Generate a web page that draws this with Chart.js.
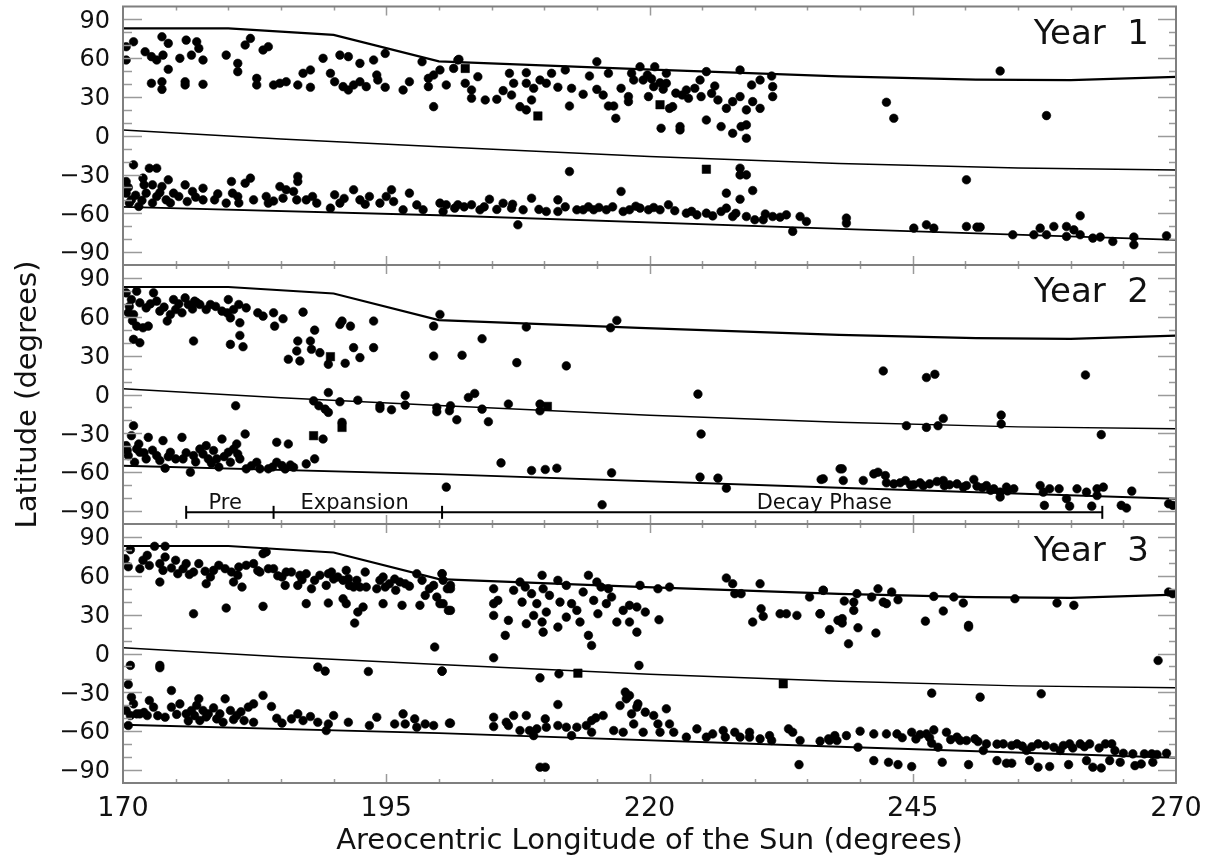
<!DOCTYPE html>
<html>
<head>
<meta charset="utf-8">
<script src="https://cdn.jsdelivr.net/npm/chart.js@4/dist/chart.umd.min.js"></script>
<style>
html,body{margin:0;padding:0;background:#fff;}
#wrap{position:relative;width:1208px;height:856px;overflow:hidden;}
canvas{position:absolute;left:0;top:0;}
</style>
</head>
<body>
<div id="wrap">
<canvas id="c1" width="1208" height="856"></canvas>
<canvas id="c2" width="1208" height="856"></canvas>
<canvas id="c3" width="1208" height="856"></canvas>
</div>
<script>
// ---------- data ----------
const xTicksMajor = [170, 195, 220, 245, 270];
const yTickLabels = [90, 60, 30, 0, -30, -60, -90];
const panelNames = ['Year  1', 'Year  2', 'Year  3'];

// boundary curves (Ls, latitude)
const upperLon = [170, 180, 190, 200, 219, 238, 251, 260, 270];
const upperLat = [83, 83, 78, 57.5, 51.5, 46, 43.5, 43, 45.5];
const middleLon = [170, 185, 200, 220, 238, 255, 270];
const middleLat = [4.5, -2.5, -8.5, -16, -21.5, -25, -26.5];
const lowerLon = [170, 200, 238, 270];
const lowerLat = [-55, -61.5, -72, -80.5];

// phase bar (Year 2)
const phaseBounds = [176, 184.3, 200.3, 263];
const phaseLat = -91;
const phaseNames = ['Pre', 'Expansion', 'Decay Phase'];
const phaseCenters = [179.7, 192, 236.6];

// Year 1 storms [Ls, lat]
const year1Dots = [
[170.3,68.9],[171,72.7],[170.3,58.6],[172.1,65],[172.7,61.2],[173.2,58.6],[173.7,76.6],[174.3,71.5],[173.8,62.4],[174.3,51.4],[172.7,40.6],[173.7,41.8],[173.7,35.9],[175.4,59.9],[176,74],[176.5,62.4],[177,72.7],[177.2,67.6],[177.6,58.6],[175.9,41.8],[175.9,39.3],[177.6,39.8],[179.8,62.4],[180.9,56],[180.9,49.6],[181.6,70.2],[182.1,75.3],[183.3,66.3],[183.8,68.9],[182.7,44.4],[182.7,39.3],[184.3,39.3],[184.9,40.6],[185.5,41.8],[186.6,39.3],[187.1,48.3],[187.8,50.9],[187.8,37.5],[189,59.9],[189.7,48.3],[190.6,62.4],[191.4,61.2],[190.1,41.8],[190.9,38],[191.4,35.4],[191.9,39.3],[192.5,56],[192.5,41.8],[193.1,38],[193.8,58.6],[194.1,47],[194.2,43.1],[194.9,37.5],[194.9,63.7],[196.6,35.4],[197.2,41.8],[198.4,57.3],[199,44.4],[199,38],[199.5,47],[199.5,22.5],[200.1,50.9],[200.7,39.3],[201.4,52.1],[201.8,58.6],
[201.9,59.1],[202.5,40.6],[203.1,35.4],[203.1,29],[203.7,45.7],[204.4,27.7],[205.5,28.2],[206.1,34.9],[206.7,48.3],[206.9,31.5],[207.1,40.6],[207.7,22.5],[208.3,20],[208.3,48.8],[208.3,40.6],[208.8,27.7],[209,36.7],[209.6,43.1],[210.2,40.6],[210.7,48.3],[211.3,37.5],[212,50.9],[212.4,23],[212.6,36.7],[213.7,32.1],[214.3,46.2],[215,57.3],[215,35.9],[215.6,31.5],[216.1,48.3],[216.1,23],[216.6,23],[216.8,13.5],[217.3,36.7],[218,30.3],[218,26.4],[218.3,48.3],[218.5,43.1],[219.1,53.4],[219.4,43.1],[219.9,30.3],[220.4,38],[220.5,53.4],[221.1,5.8],[221.6,48.3],[221.6,40.6],[221.9,21.2],[222.2,22.5],[222.9,7.1],[222.9,4.5],[223.5,35.4],[223.7,29],[224.3,36.7],[224.8,43.1],[224.9,30.3],[225.4,49.6],[225.4,12.2],[225.9,32.8],[226.2,38.5],[226.5,27.7],[226.8,7.1],[227.3,21.2],[227.9,1.9],[227.9,26.4],[228.6,30.3],[228.6,50.9],[228.7,7.1],[229.2,8.4],[229.2,-1.9],[229.2,20],[229.7,39.3],[229.8,26.4],[230.5,43.1],[230.5,21.2],[231.6,46.2],[231.7,38],[231.7,30.3],
[219.8,47],[220.2,44],[221,41],[221.3,36],[222.5,33],[223.1,31.5],
[242.5,25.9],[243.2,13.5],[253.3,50.1],[257.7,15.6],
[171,-22.5],[170.3,-35.4],[170.3,-44.4],[170.8,-49.6],[171.5,-54.7],[171.9,-32.8],[172.2,-44.4],[172.5,-25.1],[172.8,-38],[173.2,-25.1],[173.2,-47],[173.7,-39.3],[174.1,-49.6],[174.3,-34.1],[174.8,-44.4],[175.9,-38],[176.1,-50.9],[176.6,-43.1],[177.6,-40.6],[177.6,-49.6],[178.7,-49.6],[179.8,-52.1],[180.3,-35.4],[180.4,-44.4],[180.9,-47],[181.6,-36.7],[182.1,-32.8],[182.4,-49.6],[183.6,-47],[183.8,-52.1],[184.9,-39.3],[185.5,-41.8],[186.2,-43.1],[186.6,-31.5],[186.6,-35.4],[185.2,-48.3],[186.5,-49.6],[187.4,-49.6],[188.4,-52.1],[189.7,-56],[190.1,-45.7],[190.6,-52.1],[191.9,-41.8],[192.5,-49.6],[193.4,-47],[194.4,-52.1],[195,-47],[195.5,-41.8],[195.7,-50.9],[196.6,-57.3],[197.2,-44.4],[197.9,-53.5],[198.5,-57.3],[200.1,-52.1],[200.4,-58.6],[201.5,-56],
[170.5,-40],[171.2,-46],[171.8,-50],[172.8,-52],[173.5,-44],[174.5,-52],[175.3,-47],[170.6,-52],[172,-38],[176.9,-47.5],[179,-45],[181,-52],[184.3,-50.5],[188,-47],[191,-48.5],[193,-53],
[200.7,-53.4],[201.8,-53.4],[203.1,-53.4],[203.9,-57.3],[204.8,-49.1],[206.1,-52.2],[206.9,-56],[207.5,-68.9],[208,-57.3],[208.8,-48.3],[210.2,-58.6],[211.3,-49.6],[211.3,-58.6],[212.4,-27.7],[213.1,-57.3],[213.7,-57.3],[214.7,-57.3],[215.9,-57.3],[217.3,-43.1],[217.5,-58.6],[218.1,-57.3],[219.1,-56],[219.9,-57.3],[221,-57.3],[221.8,-53.4],[223.5,-59.9],[224.5,-61.2],[225.4,-59.9],[226.8,-58.6],[227.3,-44.4],[227.3,-56],[227.9,-62.5],[228.6,-25.1],[228.6,-30.3],[228.6,-49.1],[229.2,-30.3],[229.2,-62.5],[229.8,-42.4],[230,-65],[230.8,-65],[231.7,-62.5],[233,-61.2],[233.6,-74],[234.3,-62.5],[234.9,-66.3],
[202.4,-55],[204.3,-55],[205.5,-57],[207,-53],[209.5,-57],[212,-55],[214.2,-55],[215.2,-55.5],[216.5,-55],[218.7,-54.5],[220.4,-55.5],[222.4,-58],[224,-58.5],[226,-62],[228.2,-60],[231,-60.5],[232.4,-63],
[238.7,-63.7],[238.7,-67.6],[245.1,-71.5],[246.3,-68.9],[247,-71.5],[250.1,-34.1],[250.1,-70.2],[251.1,-70.7],[251.4,-70.7],[254.5,-76.6],[256.5,-76.6],[257.1,-71.5],[257.7,-76.6],[258.4,-70.2],[259.6,-70.2],[259.6,-77.9],[260.3,-72.8],[260.9,-76.6],[260.9,-61.9],[262.1,-79.2],[262.8,-78.4],[264,-81.8],[266,-78.4],[266,-84.3],[269.1,-77.4]
];
const year1Squares = [[209.4,15.3],[225.4,-25.9],[221,24],[202.5,52.1]];

// Year 2 storms
const year2Dots = [
[170.3,78.5],[170.8,73.3],[170.5,63.1],[171.3,79.7],[171.6,70.8],[171,61.8],[172.2,66.9],[172.9,78.5],[173.2,72.1],[173.5,64.4],[174.2,56.7],[174.5,61.8],[175,65.6],[174.8,73.3],[175.6,63.1],[175.9,74.6],[176.2,69.5],[176.8,72.1],[177.3,69.5],[178.3,69.5],[177.9,65.6],[179.4,64.4],[180,73.3],[180.2,59.2],[180.5,65.6],[181,69.5],[181.1,55.4],[181.7,66.9],[171.3,52.8],[171.9,51.5],[172.4,52.8],[171,42.6],[171.6,40],[176.7,41.3],[180.2,38.7],[181.1,45.6],[181.4,36.9],[182.8,63.1],[183.3,60.5],[184.3,63.1],[184.4,52.8],[185.2,58.5],[185.7,27.2],[186.6,41.3],[186.5,33.6],[186.8,25.9],[187.1,63.6],[187.8,41.3],[187.9,34.9],[188.2,49.7],[188.7,32.3],[189.5,23.3],[190.6,54.1],[190.8,56.7],[191.6,52.8],[191.1,24.1],[191.9,36.2],[192.5,28.5],[193.8,56.7],[193.8,36.2],[199.5,52.8],[199.5,29.7],[200.1,61.8],
[170.6,68],[172.6,70],[173.9,67.5],[175.3,70],[176.6,66],[178.8,68],[179.9,63],[170.9,57],[177,71],
[202.2,30.3],[204.1,43.1],[207.4,24.6],[208.3,52.1],[212.1,22.1],[216.3,51.5],[216.9,57.2],
[242.2,18.2],[246.3,13.1],[247.1,15.6],[261.4,15.1],
[180.7,-8.7],[188.1,-4.9],[188.6,-8.7],[189.2,-11.3],[189.5,-13.8],[189.5,1.5],[190.6,-5.6],[190.8,-21.5],[192.3,-4.4],[194.4,-8.7],[194.4,-10.8],[195.5,-11.8],[196.8,-0.7],[196.8,-8.2],[199.8,-10],[199.8,-13.3],[201.1,-8.7],[201.7,-19.5],[189,-34.4],[201,-12.6],[202.8,-2.3],[203.4,0.8],[204.1,-11.3],[204.7,-21],[206.6,-7.4],[209.6,-7.4],[209.6,-12.6],[224.6,0.3],[224.9,-30.5],[244.4,-24.1],[246.3,-25.4],[247.4,-24.1],[247.9,-18.5],[253.4,-15.9],[253.4,-22.8],[262.9,-31],
[170.3,-39.5],[170.5,-47.2],[171,-24.1],[170.8,-31.8],[171.1,-52.3],[171.5,-38.2],[171.6,-44.6],[172.2,-49.7],[172.4,-33.1],[173.2,-47.2],[173.8,-35.6],[174,-56.9],[174.5,-44.6],[175,-49.7],[175.6,-33.1],[175.7,-49.7],[176.4,-60],[176.7,-47.2],[177.3,-42.1],[177.9,-39.5],[178.1,-49.7],[178.6,-43.3],[178.9,-49.7],[179.4,-34.4],[180,-44.6],[180.2,-52.3],[180.5,-42.1],[180.8,-38.2],[181.1,-49.7],[181.6,-30.5],[181.7,-57.4],[182.7,-52.3],[183,-57.4],[183.8,-57.4],[184.6,-36.9],[184.6,-52.3],[185.1,-54.9],[185.7,-38.2],[185.9,-54.4],[186.2,-56.2],[187.4,-53.6],[188.2,-49.7],
[170.4,-43],[171.3,-42],[172,-45],[172.8,-43],[173.5,-51],[174.3,-48],[176,-45],[176.9,-52],[177.6,-46],[178.4,-53],[179.6,-48],[180.9,-46],[179.1,-56],[182.2,-55],[184.2,-56],[185.4,-57.5],
[200.7,-71.5],[205.9,-52.8],[208.8,-58.7],[210.1,-57.9],[211.2,-56.9],[215.5,-85.1],[216.4,-60.5],[224.8,-63.8],[226.5,-64.6],[227.3,-72.3],[236.3,-65.6],[238.1,-57.4],
[236.5,-65.1],[238.3,-57.4],[238.4,-66.4],[240.3,-66.4],[241.3,-61.3],[241.7,-60],[242.4,-62.6],[242.5,-68.2],[243.2,-69],[243.8,-68.2],[244.3,-66.4],[245.1,-69.7],[245.7,-68.2],[246.6,-69],[247.3,-67.2],[247.9,-66.4],[248.5,-69.7],[249.2,-69],[250.1,-70.3],[250.8,-65.6],[251.1,-70.8],[252,-70.3],[252.7,-72.8],[253.3,-75.4],[253.3,-79.2],[253.9,-71.5],[254.6,-72.8],[257.1,-70.3],[257.4,-75.4],[258,-72.8],[258.9,-72.8],[259.6,-80.5],[260.6,-72.8],[261.5,-75.4],[262.5,-72.8],[263.1,-71.5],[262.5,-78],[265.8,-74.6],[257.5,-85.6],[259.9,-86.2],[262,-86.2],[264.8,-85.6],[265.3,-87.7],[269.3,-84.4],[269.7,-85.6],
[244.8,-70],[246,-70.5],[248,-70.5],[249.8,-71.5],[251.6,-72],[252.4,-74],[254,-74.5]
];
const year2Squares = [[190.8,-25.4],[188.1,-31.8],[210.3,-9.2],[189.7,29.2]];

// Year 3 storms
const year3Dots = [
[170.2,73.2],[170.7,80.2],[171.6,65.5],[171.9,72],[172.3,75.8],[173,82.8],[174,82.8],[173.5,69.4],[173.8,64.2],[174,74.5],[173.5,55.2],[175,72],[175.2,61.6],[175.7,65.5],[176,69.4],[176.7,62.9],[177.2,69.4],[177.9,53.9],[178.3,59.1],[178.6,64.2],[179.1,68.1],[179.7,65.5],[180.3,62.9],[180.5,55.2],[181,66.8],[181.3,51.3],[181.7,68.1],[182.4,69.4],[183,62.9],[183.3,77.1],[183.6,78.4],[183.8,65.5],[184.3,65.5],[185.1,59.1],[185.4,52.6],[185.5,62.9],[186,62.9],[186.6,52.6],[186.8,60.4],[187.4,61.6],[187.9,50],[188.2,56.5],[188.7,60.4],[189.3,52.6],[189.5,61.6],[189.8,62.9],[190.4,59.1],[190.9,56.5],[191.2,64.2],[191.4,57.8],[191.5,52.6],[191.9,51.3],[192.5,51.3],[193,62.9],[193.1,51.3],[194.1,50],[194.4,56.5],[194.7,59.1],[194.9,51.3],[195.3,53.9],[195.9,48.8],[196.3,55.2],[196.8,53.9],[197.9,61.6],[198.4,56.5],[198.7,44.9],[199.1,50],[199.5,52.6],[199.8,43.6],[200.3,61.6],[200.1,38.5],[200.8,50],[200.9,33.3],[201.1,52.6],[176.7,30.7],[179.8,35.1],[183.3,36.4],[187.4,38.5],[189.5,39],[190.9,42.3],[191.2,38.5],[192,23.5],[192.3,32],[192.8,35.9],[194.7,38.5],[196.5,37.2],[198.2,37.2],[199.6,5],[200.3,-13.6],
[172.5,68],[174.6,66],[176.3,61],[177.8,63.5],[180.9,60.5],[182.8,64],[184.7,60],[187,57],[190,57.5],[192.2,56.5],[195.8,57.5],[197.2,52],[170.5,67],
[170.7,-9.2],[173.5,-9.2],[173.5,-11],[188.5,-10.5],[189.2,-13.6],[193.3,-13.9],
[170.5,-23.9],[170.8,-33.7],[171,-38.9],[170.3,-44],[170.7,-47.9],[170.5,-55.6],[171.3,-46.6],[171.6,-46.6],[172.3,-47.9],[172.5,-36.3],[172.9,-41.4],[174,-49.2],[174.6,-28.6],[174.6,-41.4],[175.4,-38.9],[176,-46.6],[176.5,-44],[177.2,-35],[177.3,-51.8],[177.6,-44],[178.1,-46.6],[179.2,-46.6],[179.7,-35],[179.5,-53.1],[180.2,-44],[180.8,-47.9],[181.5,-51.8],[181.9,-41.4],[182.4,-38.9],[182.4,-53.1],[183.3,-32.4],[184.1,-40.9],[185.1,-53.8],[186,-50.5],[186.6,-46.6],[187.1,-51.8],[187.8,-48.7],[188.5,-53.1],[189.3,-59.5],[189.5,-54.4],[190,-47.9],[191.4,-53.1],[193.4,-55.6],[194.1,-49.2],[195.8,-54.4],[196.6,-46.6],[196.8,-54.4],[197.7,-50.5],[197.9,-56.9],[198.7,-54.4],[199.5,-55.6],[201,-53.8],
[176.8,-48],[177.9,-49],[178.6,-42],[176.2,-52],[177,-40],[178.9,-50.5],[180.5,-51],[181.2,-45],[172,-45.5],[173.3,-48],[175.1,-47],[184.6,-50],
[200.3,61.6],[200.4,56.5],[201.1,50],[200.4,38.5],[201.1,33.3],[205.2,50],[205.2,38.5],[205.6,41],[205.2,29.4],[206.3,14],[206.6,25.6],[207.1,48.8],[207.7,55.2],[207.9,39.7],[208.2,51.3],[208.3,23],[208.8,46.2],[209,29.4],[209.3,38.5],[209.8,60.4],[209.9,50],[209.8,24.3],[209.9,16.5],[210.2,32],[210.5,44.9],[211.3,56.5],[211.3,20.4],[211.5,39.7],[212.1,52.6],[212.1,28.1],[212.6,38.5],[213.1,33.3],[213.4,24.3],[213.7,47.5],[214.2,60.4],[214.2,14],[214.5,6.2],[214.7,41],[215,55.2],[215.1,30.7],[215.4,51.3],[215.9,38.5],[216.1,50],[216.4,43.6],[216.9,24.3],[217.5,33.3],[218.1,37.2],[218.1,24.3],[218.8,35.9],[218.8,16.5],[219.1,52.6],[219.6,32],[220.8,50],[220.9,26.1],[221.9,51.3],[227.3,58.3],[227.9,53.9],[228.1,46.2],[228.7,46.2],[229.8,24.3],[230.5,53.9],[230.6,34.6],[230.8,28.7],[232.4,30.7],[233,30.7],[234,29.4],[235.2,43.6],[236.2,30.7],[236.5,48.8],[237.1,18.4],[237.9,25.6],
[200.3,-13.6],[205.2,-3.3],[209.6,-18.8],[211.4,-15.7],[219,-9.2],
[201.1,-53.8],[205.2,-49.2],[205.2,-56.4],[206.4,-53.1],[206.6,-55.6],[207.1,-47.9],[207.7,-59.5],[208.3,-47.9],[208.6,-59.5],[209,-63.4],[209.3,-58.2],[209.6,-87.8],[210.1,-87.8],[210.1,-50.5],[210.2,-56.9],[211.3,-39.4],[211.3,-55.6],[212.1,-56.9],[212.6,-63.4],[213.1,-56.9],[214,-55.6],[214.5,-51.8],[214.9,-49.7],[215.6,-47.9],[214.5,-60.8],[216.6,-59.5],[217.2,-40.2],[217.5,-60.8],[217.7,-29.8],[217.8,-35],[218.1,-32.4],[218.3,-46.6],[218.5,-54.4],[218.8,-41.4],[218.9,-38.9],[219.4,-60.8],[219.6,-45.3],[220.4,-47.9],[220.8,-54.4],[221,-60.8],[221.6,-42.7],[221.9,-54.4],[222.3,-60.8],[223.5,-64.6],[224.5,-58.2],[225.4,-64.6],[226,-62.1],[227,-59.5],[227.2,-64.6],[228.1,-60.8],[228.6,-64.6],[229.5,-60.8],[229.5,-64.6],[230.5,-65.9],[231.4,-63.4],[231.6,-67.2],[233.2,-58.2],[233.6,-60.8],[234.3,-67.2],[234.2,-85.8],[236.2,-67.7],[237,-65.9],[237.8,-67.2],
[236.5,48.8],[236.2,30.7],[238.3,26.9],[238.3,23.5],[238.5,40.5],[238.9,7.5],[239.4,39.7],[239.4,33.3],[239.7,46.2],[239.8,19.9],[241.1,43.6],[241.5,15.8],[241.7,50],[242.2,39.7],[242.5,38.5],[243,47.5],[243.6,41.5],[246.2,25],[247,44.1],[247.9,32.8],[248.9,43.6],[249.8,39],[250.3,21.7],[250.3,20.4],[254.7,42.3],[258.7,39],[260.3,37.2],[268.3,-5.4],[269.3,47.5],[269.7,46.2],
[246.8,-30.6],[251.4,-33.7],[257.2,-31.1],
[237.1,-67.2],[238.7,-63.4],[240,-60],[241.3,-62.1],[242.5,-62.1],[243.5,-62.1],[241.3,-82.7],[242.7,-84],[243.6,-85.8],[244.9,-60.8],[244.9,-87.3],[245.7,-62.6],[246.3,-62.1],[247,-59],[247.4,-72.4],[247.8,-84],[248.2,-60.8],[249.2,-64.6],[250.1,-67.2],[250.3,-85.8],[250.9,-65.9],[251.7,-74.9],[252,-69.8],[253,-82.7],[253.6,-69.8],[253.9,-84.7],[254.4,-84.7],[254.9,-69.8],[255.8,-74.9],[256.1,-82.7],[256.9,-69.8],[256.9,-87.8],[258,-87.3],[259,-74.9],[259.8,-85.8],[259.9,-69.8],[260.9,-69.8],[261.5,-82.7],[261.8,-69.8],[262.1,-87.8],[262.9,-88.4],[263.3,-69.8],[263.9,-69.8],[263.7,-82.7],[264.7,-84],[265.9,-77.5],[266.1,-86.6],[266.7,-85.3],[267.7,-77.5],[267.8,-84],[269.1,-77],[237.6,-63.4],[239.8,-72.4],[246.8,-69.3],[249.5,-67.2],[258.4,-72.4],
[244,-65],[245.3,-66],[246.6,-65],[248.6,-66.5],[251.2,-68],[253,-70],[254.4,-71],[255.4,-71.5],[256.3,-72],[257.6,-71],[259.3,-71],[260.2,-73],[261.3,-72],[262.7,-73],[264.2,-75],[265,-77],[267,-77.5],[268.2,-78]
];
const year3Squares = [[213.2,-15.2],[232.7,-23.4]];

// ---------- helpers ----------
const zip = (xs, ys) => xs.map((x, i) => ({x, y: ys[i]}));
const toXY = arr => arr.map(p => ({x: p[0], y: p[1]}));
const FONT = '"DejaVu Sans", "Noto Sans", sans-serif';

const framePlugin = {
  id: 'frame',
  afterDraw(chart, args, o) {
    const {ctx, chartArea: a, scales: {x, y}} = chart;
    ctx.save();
    ctx.strokeStyle = '#9a9a9a';
    ctx.lineWidth = 1.5;
    ctx.beginPath();
    for (let v = -90; v <= 90; v += 10) {
      const py = Math.round(y.getPixelForValue(v)) + 0.5;
      const long = v % 30 === 0;
      ctx.moveTo(a.left, py); ctx.lineTo(a.left + (long ? 19 : 9), py);
      ctx.moveTo(a.right, py); ctx.lineTo(a.right - (long ? 18 : 7), py);
    }
    for (let v = 175; v <= 265; v += 5) {
      const px = Math.round(x.getPixelForValue(v)) + 0.5;
      const len = xTicksMajor.includes(v) ? 9 : 4;
      ctx.moveTo(px, a.top); ctx.lineTo(px, a.top + len);
      ctx.moveTo(px, a.bottom); ctx.lineTo(px, a.bottom - len);
    }
    ctx.stroke();
    ctx.lineWidth = 2;
    ctx.strokeStyle = '#7f7f7f';
    ctx.strokeRect(a.left, a.top, a.right - a.left, a.bottom - a.top);

    ctx.fillStyle = '#111';
    ctx.font = '34px ' + FONT;
    ctx.textAlign = 'right';
    ctx.textBaseline = 'alphabetic';
    ctx.fillText(o.year, a.right - 27, a.top + 37);

    if (o.phases) {
      ctx.font = '21px ' + FONT;
      ctx.textAlign = 'center';
      const py = y.getPixelForValue(phaseLat) - 3;
      phaseNames.forEach((n, i) => ctx.fillText(n, x.getPixelForValue(phaseCenters[i]), py));
    }
    ctx.restore();
  }
};

function lineDs(xs, ys, w) {
  return {type: 'scatter', data: zip(xs, ys), showLine: true, borderColor: '#000',
    borderWidth: w, pointRadius: 0, fill: false, order: 1};
}

function makePanel(id, top, bottom, dots, squares, idx) {
  const isBottom = idx === 2;
  const datasets = [
    lineDs(upperLon, upperLat, 2.2),
    lineDs(middleLon, middleLat, 1.5),
    lineDs(lowerLon, lowerLat, 1.8),
    {data: toXY(dots), pointRadius: 4.3, pointBackgroundColor: '#000', pointBorderColor: '#000', pointBorderWidth: 0.6, order: 0},
    {data: toXY(squares), pointStyle: 'rect', pointRadius: 6, pointBackgroundColor: '#000', pointBorderColor: '#000', pointBorderWidth: 0.5, order: 0}
  ];
  if (idx === 1) {
    datasets.push({data: phaseBounds.map(v => ({x: v, y: phaseLat})), showLine: true,
      borderColor: '#000', borderWidth: 2, pointStyle: 'line', pointRotation: 90,
      pointRadius: 6.5, pointBorderColor: '#000', pointBorderWidth: 2, order: 0});
  }
  return new Chart(document.getElementById(id), {
    type: 'scatter',
    data: {datasets},
    options: {
      responsive: false,
      animation: false,
      events: [],
      layout: {padding: {left: 0, right: 32, top: top, bottom: isBottom ? 0 : 856 - bottom}},
      plugins: {legend: {display: false}, tooltip: {enabled: false}, frame: {year: panelNames[idx], phases: idx === 1}},
      scales: {
        x: {
          type: 'linear', min: 170, max: 270, display: isBottom, position: 'bottom',
          grid: {display: false, drawTicks: false}, border: {display: false},
          ticks: {stepSize: 25, padding: 10, autoSkip: false, maxRotation: 0, color: '#111',
            font: {family: FONT, size: 27}},
          title: {display: isBottom, text: 'Areocentric Longitude of the Sun (degrees)', color: '#111',
            font: {family: FONT, size: 29, lineHeight: 1}, padding: {top: 0, bottom: 0}},
          afterFit: s => { s.height = isBottom ? 73 : 0; s.paddingLeft = 0; s.paddingRight = 0; }
        },
        y: {
          type: 'linear', min: -100, max: 100, position: 'left',
          grid: {display: false, drawTicks: false}, border: {display: false},
          ticks: {stepSize: 10, autoSkip: false, padding: 13, labelOffset: 2, color: '#111',
            font: {family: FONT, size: 24},
            callback: v => yTickLabels.includes(v) ? (v < 0 ? '\u2212' + Math.abs(v) : String(v)) : ''},
          title: {display: idx === 1, text: 'Latitude (degrees)', color: '#111',
            font: {family: FONT, size: 29, lineHeight: 1}, padding: {top: 14, bottom: 0}},
          afterFit: s => { s.width = 123; s.paddingTop = 0; s.paddingBottom = 0; }
        }
      }
    },
    plugins: [framePlugin]
  });
}

makePanel('c1', 6, 265, year1Dots, year1Squares, 0);
makePanel('c2', 265, 524, year2Dots, year2Squares, 1);
makePanel('c3', 524, 783, year3Dots, year3Squares, 2);
</script>
</body>
</html>
